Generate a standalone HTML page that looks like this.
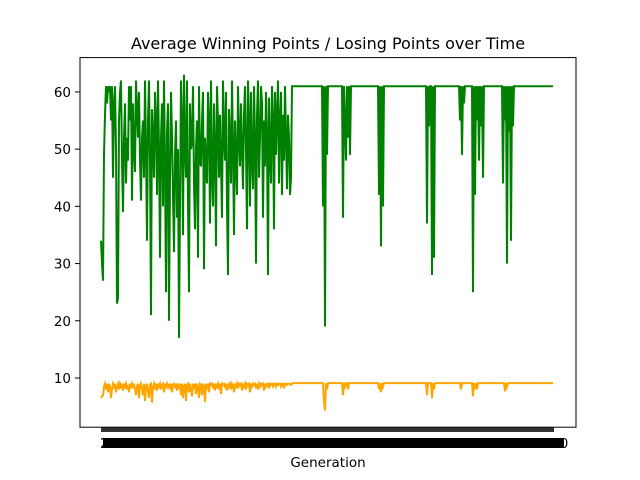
<!DOCTYPE html>
<html><head><meta charset="utf-8"><style>
html,body{margin:0;padding:0;background:#fff;}
svg{display:block;font-family:"DejaVu Sans","Liberation Sans",sans-serif;}
</style></head><body>
<svg id="chart" width="640" height="480" viewBox="0 0 640 480" xmlns="http://www.w3.org/2000/svg">
<rect width="640" height="480" fill="#fff"/>
<text x="328" y="49" font-size="16" text-anchor="middle">Average Winning Points / Losing Points over Time</text>
<g id="plot"></g>
<rect x="101" y="427" width="453" height="5" fill="#333"/>
<rect x="103" y="438" width="461" height="10" fill="#000"/>
<text x="100" y="448" font-size="13">2</text>
<text x="560" y="448" font-size="13">0</text>
<text x="328" y="467" font-size="13.5" text-anchor="middle">Generation</text>
<rect x="80" y="57.6" width="496" height="369.6" fill="none" stroke="#000" stroke-width="1"/>
</svg>
<script>
const winning = [
34,30,27,49,56,61,58,61,60,61,55,61,45,58,61,50,
23,24,55,60,62,48,39,52,58,44,52,48,61,55,61,41,
58,50,46,62,57,52,60,48,41,52,55,45,62,50,34,55,
62,48,21,57,52,45,60,55,42,62,50,31,52,58,40,62,
47,25,53,58,20,45,60,52,42,32,49,55,38,50,17,40,
62,55,35,63,50,45,62,40,25,58,50,51,61,44,36,50,
55,31,61,48,47,55,60,29,52,47,44,60,55,37,62,45,
40,58,50,33,61,55,45,56,47,38,62,52,48,60,40,28,
57,52,44,62,50,35,55,48,42,61,52,47,58,50,43,56,
61,50,36,62,55,40,60,48,43,61,52,30,56,62,45,52,
61,58,38,55,47,60,52,28,59,50,44,61,55,36,60,49,
56,62,44,55,60,42,56,48,61,52,43,56,52,42,45,61,
61,61,61,61,61,61,61,61,61,61,61,61,61,61,61,61,61,61,61,61,61,61,61,61,61,61,61,61,61,61,
40,61,19,61,49,
61,61,61,61,61,61,61,61,61,61,61,61,61,61,61,
38,61,55,48,61,52,61,49,61,61,
61,61,61,61,61,61,61,61,61,61,61,61,61,61,61,61,61,61,61,61,61,61,61,61,61,61,
42,61,33,61,40,61,61,
61,61,61,61,61,61,61,61,61,61,61,61,61,61,61,61,61,61,61,61,61,61,61,61,61,61,61,61,61,61,61,61,61,61,61,61,61,61,61,61,61,
37,61,54,61,61,28,61,31,61,61,61,61,
61,61,61,61,61,61,61,61,61,61,61,61,61,61,61,61,61,61,61,61,61,
55,61,49,61,58,61,
61,61,61,61,61,61,61,
25,61,42,61,55,61,48,61,54,61,45,61,61,61,61,
61,61,61,61,61,61,61,61,61,61,61,61,61,61,61,
44,61,55,61,30,61,53,61,34,61,54,61,61,
61,61,61,61,61,61,61,61,61,61,61,61,61,61,61,61,61,61,61,61,61,61,61,61,61,61,61,61,61,61,61,61,61,61,61,61,61,61
];
const losing = [
6.5,6.8,7,8.5,9,8,9,7.5,9,8.5,6.5,8,9,8.5,9,7.5,
8.5,9,8,9,8.5,9,7.8,9,8.5,9,8,8.8,7.5,9,8.5,9,
8.2,9,8,7,8.5,9,6.5,8.5,9,8,7,9,6,8.5,9,7.5,
6.5,8.8,9,5.7,8.5,9,8,9,7.8,9,8.5,9,8,8.8,9,7.5,
9,8.5,9,8.2,9,8,9,7.5,8.8,9,8.5,9,7.8,9,8.5,9,
7,9,6.5,8.5,9,6,8.8,9,7.5,9,8,6.8,9,8.5,9,7.2,
9,8.5,6.5,9,8.8,7,9,8.5,5.8,9,8,9,7.5,9,8.8,9,
8.2,9,7.8,9,8.5,9,8,9,7.2,9,8.8,9,8.5,9,7.8,9,
8.5,9,8,9,8.8,7.5,9,8.5,9,8.2,9,8.8,9,7.8,9,8.5,
9,8,9,8.8,9,7.5,9,8.5,9,8.8,9,8.2,9,8,9,8.5,
9,8.8,9,7.8,9,8.5,9,9,8.2,9,8.8,9,8.5,9,9,8.5,
9,8.8,9,9,8.5,9,9,8.2,9,9,8.8,9,9,9,8.8,9,
9.1,9.1,9.1,9.1,9.1,9.1,9.1,9.1,9.1,9.1,9.1,9.1,9.1,9.1,9.1,9.1,9.1,9.1,9.1,9.1,9.1,9.1,9.1,9.1,9.1,9.1,9.1,9.1,9.1,9.1,
9.1,6,4.3,9.1,8,
9.1,9.1,9.1,9.1,9.1,9.1,9.1,9.1,9.1,9.1,9.1,9.1,9.1,9.1,9.1,
7,9.1,8.5,9.1,9.1,8,9.1,9.1,9.1,9.1,
9.1,9.1,9.1,9.1,9.1,9.1,9.1,9.1,9.1,9.1,9.1,9.1,9.1,9.1,9.1,9.1,9.1,9.1,9.1,9.1,9.1,9.1,9.1,9.1,9.1,9.1,
8,9.1,7.5,9.1,8.5,9.1,9.1,
9.1,9.1,9.1,9.1,9.1,9.1,9.1,9.1,9.1,9.1,9.1,9.1,9.1,9.1,9.1,9.1,9.1,9.1,9.1,9.1,9.1,9.1,9.1,9.1,9.1,9.1,9.1,9.1,9.1,9.1,9.1,9.1,9.1,9.1,9.1,9.1,9.1,9.1,9.1,9.1,9.1,
7,9.1,9.1,9.1,9.1,6.5,9.1,8,9.1,9.1,9.1,9.1,
9.1,9.1,9.1,9.1,9.1,9.1,9.1,9.1,9.1,9.1,9.1,9.1,9.1,9.1,9.1,9.1,9.1,9.1,9.1,9.1,9.1,
9.1,8,9.1,9.1,9.1,9.1,
9.1,9.1,9.1,9.1,9.1,9.1,9.1,
6.8,9.1,8.5,9.1,8,9.1,9.1,9.1,9.1,9.1,9.1,9.1,9.1,9.1,9.1,
9.1,9.1,9.1,9.1,9.1,9.1,9.1,9.1,9.1,9.1,9.1,9.1,9.1,9.1,9.1,
9.1,9.1,7.7,9.1,8.5,9.1,9.1,9.1,9.1,9.1,9.1,9.1,9.1,
9.1,9.1,9.1,9.1,9.1,9.1,9.1,9.1,9.1,9.1,9.1,9.1,9.1,9.1,9.1,9.1,9.1,9.1,9.1,9.1,9.1,9.1,9.1,9.1,9.1,9.1,9.1,9.1,9.1,9.1,9.1,9.1,9.1,9.1,9.1,9.1,9.1,9.1
];
const yTicks = [10,20,30,40,50,60];

{
const NS = "http://www.w3.org/2000/svg";
const plot = document.getElementById('plot');
const yMin = 1.4, yMax = 66.0, plotTop = 57.6, plotBottom = 427.2;
function yScale(v){ return plotBottom - (v - yMin) / (yMax - yMin) * (plotBottom - plotTop); }
function xScale(i, n){ return 101 + i * (553 - 101) / (n - 1); }

yTicks.forEach(t => {
  const y = yScale(t);
  const tk = document.createElementNS(NS, 'line');
  
  
  tk.setAttribute('x1', 75); tk.setAttribute('x2', 80);
  tk.setAttribute('y1', y); tk.setAttribute('y2', y);
  tk.setAttribute('stroke', '#000');
  plot.appendChild(tk);
  const lb = document.createElementNS(NS, 'text');
  
  
  lb.setAttribute('x', 71); lb.setAttribute('y', y + 5);
  lb.setAttribute('font-size', '13.5');
  lb.setAttribute('text-anchor', 'end');
  lb.textContent = t;
  plot.appendChild(lb);
});

function drawLine(arr, color, name){
  const n = arr.length;
  const pts = arr.map((v, i) => xScale(i, n).toFixed(1) + ',' + yScale(v).toFixed(1)).join(' ');
  const pl = document.createElementNS(NS, 'polyline');
  
  
  pl.setAttribute('points', pts);
  pl.setAttribute('fill', 'none');
  pl.setAttribute('stroke', color);
  pl.setAttribute('stroke-width', '2');
  plot.appendChild(pl);
}
drawLine(winning, '#008000', 'winning-points-line');
drawLine(losing, '#ffa500', 'losing-points-line');
}
</script>
</body></html>
